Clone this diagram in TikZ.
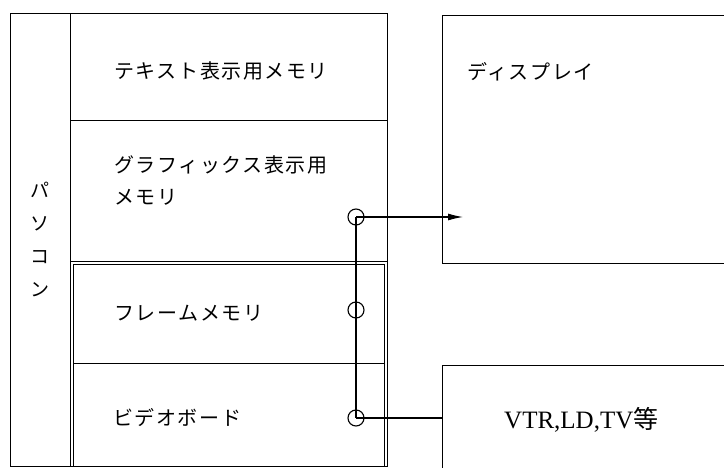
\documentclass[tikz,border=0pt]{standalone}
\usepackage{fontspec}
\setmainfont{Liberation Serif}
\newfontfamily\jp[LetterSpace=8]{Noto Sans CJK JP}
\newfontfamily\jpn{Noto Sans CJK JP}
\usetikzlibrary{arrows.meta}
\begin{document}
\begin{tikzpicture}[x=1pt,y=-1pt,
  boxx/.style={draw, line width=1.3pt, inner sep=0pt, anchor=north west},
  lbl/.style={font=\jp\fontsize{20}{32}\selectfont, anchor=west, inner sep=0pt, align=left},
  ring/.style={draw, circle, line width=1.1pt, minimum size=16pt, inner sep=0pt},
  wire/.style={line width=1.1pt}]
\useasboundingbox (0,0) rectangle (724,468);
\clip (0,0) rectangle (724,468);
% left big box
\node[boxx, minimum width=377pt, minimum height=453pt] (pc) at (10,13) {};
\node[boxx, minimum width=60pt, minimum height=453pt] (pcol) at (10,13) {};
\node[boxx, minimum width=317pt, minimum height=107pt] (txt) at (70,13) {};
\node[boxx, minimum width=317pt, minimum height=141pt] (gfx) at (70,120) {};
\node[boxx, minimum width=311pt, minimum height=202pt] (inner) at (73,264) {};
\node[boxx, minimum width=311pt, minimum height=99pt] (frm) at (73,264) {};
\node[boxx, minimum width=311pt, minimum height=103pt] (vid) at (73,363) {};
% right boxes
\node[boxx, minimum width=320pt, minimum height=248pt] (disp) at (442,15) {};
\node[boxx, minimum width=320pt, minimum height=130pt] (vtr) at (442,365) {};
% labels
\node[font=\jpn\fontsize{19}{33}\selectfont, align=center, inner sep=0pt] (pclbl) at (40,239) {パ\\ソ\\コ\\ン};
\node[lbl] (l1) at (114,71) {テキスト表示用メモリ};
\node[lbl] (l2) at (114,181) {グラフィックス表示用\\メモリ};
\node[lbl] (l3) at (114,313) {フレームメモリ};
\node[lbl] (l4) at (113,418) {ビデオボード};
\node[lbl] (l5) at (467,72) {ディスプレイ};
\node[anchor=west, inner sep=0pt, font=\fontsize{25}{25}\selectfont] (l6) at (504,420) {VTR,LD,TV{\jpn 等}};
% connectors
\node[ring] (c1) at (356,217) {};
\node[ring] (c2) at (356,310) {};
\node[ring] (c3) at (356,418) {};
\coordinate (tip) at (463,217);
\draw[wire] (c1.center) -- (c3.center);
\draw[wire, -{Latex[length=15pt,width=7pt]}] (c1.center) -- (tip);
\draw[wire] (c3.center) -- (c3.center -| vtr.west);
\end{tikzpicture}
\end{document}
